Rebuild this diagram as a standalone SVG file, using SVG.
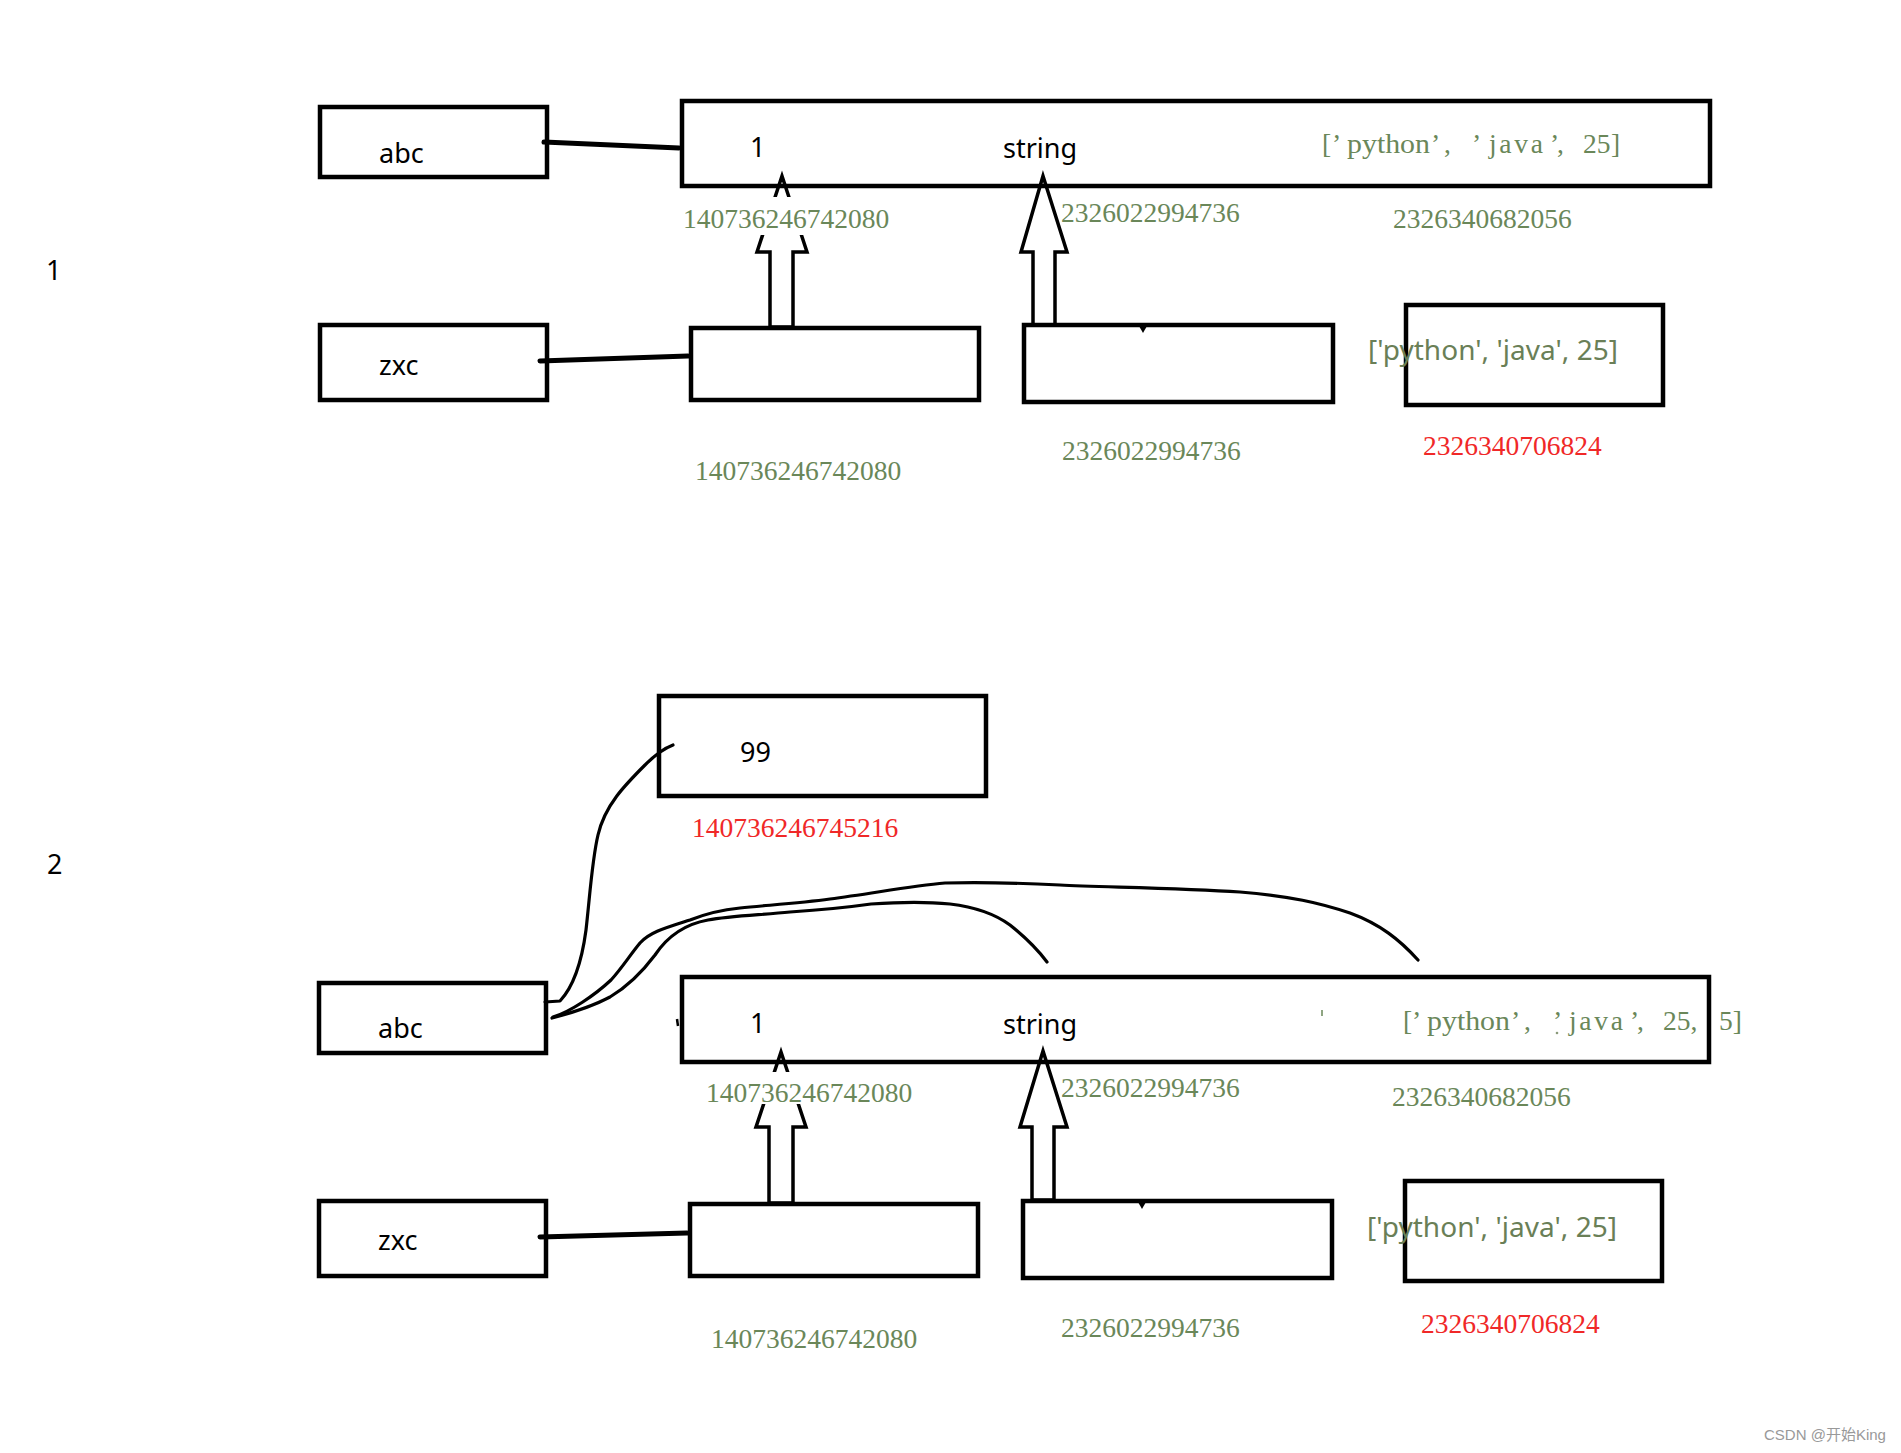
<svg xmlns="http://www.w3.org/2000/svg" width="1901" height="1453" viewBox="0 0 1901 1453">
<style>
.box{fill:none;stroke:#000;stroke-width:4.5}
.lbl{font-family:"Noto Sans","Liberation Sans",sans-serif;font-size:27px;fill:#000}
.num{font-family:"Liberation Serif",serif;font-size:27.5px;fill:#6a8759}
.red{fill:#f02828}
.lst2{font-family:"Noto Sans","Liberation Sans",sans-serif;font-size:28px;fill:#6a7f57}
.arrow{fill:none;stroke:#000;stroke-width:3.5;stroke-linejoin:miter}
.link{fill:none;stroke:#000;stroke-width:5;stroke-linecap:round}
.curve{fill:none;stroke:#000;stroke-width:3.2;stroke-linecap:round;stroke-linejoin:round}
.mask{fill:#fff}
</style>
<rect width="1901" height="1453" fill="#fff"/>

<!-- section labels -->
<g id="section-1"><text class="lbl" x="46" y="280">1</text></g>
<g id="section-2"><text class="lbl" x="47" y="874">2</text></g>

<!-- ===== Section 1 nodes ===== -->
<g id="s1-abc"><rect class="box" x="320" y="107" width="227" height="70"/><text class="lbl" x="379" y="163">abc</text></g>
<g id="s1-obj">
<rect class="box" x="682" y="101" width="1028" height="85"/>
<text class="lbl" x="750" y="157">1</text>
<text class="lbl" x="1003" y="158">string</text>
<text class="num" y="153"><tspan x="1322">[</tspan><tspan x="1332">’</tspan><tspan x="1347" textLength="83" lengthAdjust="spacingAndGlyphs">python</tspan><tspan x="1431">’</tspan><tspan x="1444">, </tspan><tspan x="1472">’</tspan><tspan x="1489" textLength="54" lengthAdjust="spacing">java</tspan><tspan x="1550">’</tspan><tspan x="1557">, </tspan><tspan x="1583">25</tspan><tspan x="1611">]</tspan></text>
</g>
<g id="s1-zxc"><rect class="box" x="320" y="325" width="227" height="75"/><text class="lbl" x="379" y="375">zxc</text></g>
<g id="s1-int"><rect class="box" x="691" y="328" width="288" height="72"/></g>
<g id="s1-str"><rect class="box" x="1024" y="325" width="309" height="77"/><path d="M1139,326 L1147,326 L1143,333 Z" fill="#000"/></g>
<g id="s1-list"><rect class="box" x="1406" y="305" width="257" height="100"/><text class="lst2" x="1368" y="360" textLength="250">['python', 'java', 25]</text></g>

<!-- ===== Section 2 nodes ===== -->
<g id="s2-99"><rect class="box" x="659" y="696" width="327" height="100"/><text class="lbl" x="740" y="762">99</text></g>
<g id="s2-abc"><rect class="box" x="319" y="983" width="227" height="70"/><text class="lbl" x="378" y="1038">abc</text></g>
<g id="s2-obj">
<rect class="box" x="682" y="977" width="1027" height="85"/>
<text class="lbl" x="750" y="1033">1</text>
<text class="lbl" x="1003" y="1034">string</text>
<text class="num" y="1030"><tspan x="1403">[</tspan><tspan x="1412">’</tspan><tspan x="1427" textLength="83" lengthAdjust="spacingAndGlyphs">python</tspan><tspan x="1511">’</tspan><tspan x="1524">, </tspan><tspan x="1553">’</tspan><tspan x="1569" textLength="54" lengthAdjust="spacing">java</tspan><tspan x="1630">’</tspan><tspan x="1637">, </tspan><tspan x="1663">25, </tspan><tspan x="1719">5]</tspan></text>
<circle cx="1557" cy="1033" r="1.3" fill="#8a9a7a"/>
<line x1="1322" y1="1010" x2="1322" y2="1016" stroke="#6a8759" stroke-width="1.5"/>
<line x1="677" y1="1019" x2="678" y2="1026" stroke="#000" stroke-width="2.5"/>
</g>
<g id="s2-zxc"><rect class="box" x="319" y="1201" width="227" height="75"/><text class="lbl" x="378" y="1250">zxc</text></g>
<g id="s2-int"><rect class="box" x="690" y="1204" width="288" height="72"/></g>
<g id="s2-str"><rect class="box" x="1023" y="1201" width="309" height="77"/><path d="M1138,1202 L1146,1202 L1142,1209 Z" fill="#000"/></g>
<g id="s2-list"><rect class="box" x="1405" y="1181" width="257" height="100"/><text class="lst2" x="1367" y="1237" textLength="250">['python', 'java', 25]</text></g>

<!-- ===== connectors ===== -->
<g id="connectors">
<path class="link" d="M544,142 L679,148"/>
<path class="link" d="M540,361 L688,356"/>
<path class="link" d="M540,1237 L687,1233"/>
<path class="arrow" d="M782,176 L757,252 L770,252 L770,327 L793,327 L793,252 L807,252 Z"/>
<path class="arrow" d="M1043,176 L1021,252 L1033,252 L1033,325 L1055,325 L1055,252 L1067,252 Z"/>
<path class="arrow" d="M781,1052 L756,1127 L769,1127 L769,1203 L793,1203 L793,1127 L806,1127 Z"/>
<path class="arrow" d="M1043,1051 L1020,1127 L1032,1127 L1032,1200 L1054,1200 L1054,1127 L1067,1127 Z"/>
<path class="curve" d="M545,1002 L560,1001 C575,985 582,960 586,930 C590,895 592,860 598,835 C605,805 625,785 645,765 C655,755 665,748 673,745"/>
<path class="curve" d="M553,1017 C570,1012 595,995 611,980 C622,968 630,955 640,943 C650,932 665,928 690,920 C705,914 720,910 740,908 C770,905 800,903 830,899 C870,894 910,886 945,883 C980,882 1020,883 1060,885 C1100,887 1180,888 1240,892 C1290,896 1320,903 1350,913 C1380,924 1400,940 1418,960"/>
<path class="curve" d="M552,1018 C575,1012 595,1005 610,997 C625,988 640,975 655,955 C665,940 680,925 708,920 C730,916 760,915 790,912 C820,910 850,907 871,904 C900,902 930,902 950,904 C975,907 995,914 1010,925 C1025,937 1038,950 1047,962"/>
</g>

<!-- ===== address labels ===== -->
<g id="addresses">
<rect class="mask" x="681" y="197" width="212" height="38"/>
<text class="num" x="683" y="228">140736246742080</text>
<text class="num" x="1061" y="222">2326022994736</text>
<text class="num" x="1393" y="228">2326340682056</text>
<text class="num" x="695" y="480">140736246742080</text>
<text class="num" x="1062" y="460">2326022994736</text>
<text class="num red" x="1423" y="455">2326340706824</text>
<text class="num red" x="692" y="837">140736246745216</text>
<rect class="mask" x="704" y="1072" width="212" height="32"/>
<text class="num" x="706" y="1102">140736246742080</text>
<text class="num" x="1061" y="1097">2326022994736</text>
<text class="num" x="1392" y="1106">2326340682056</text>
<text class="num" x="711" y="1348">140736246742080</text>
<text class="num" x="1061" y="1337">2326022994736</text>
<text class="num red" x="1421" y="1333">2326340706824</text>
</g>

<text x="1764" y="1440" font-family="'Liberation Sans','Noto Sans CJK SC',sans-serif" font-size="15" fill="#999">CSDN @开始King</text>
</svg>
